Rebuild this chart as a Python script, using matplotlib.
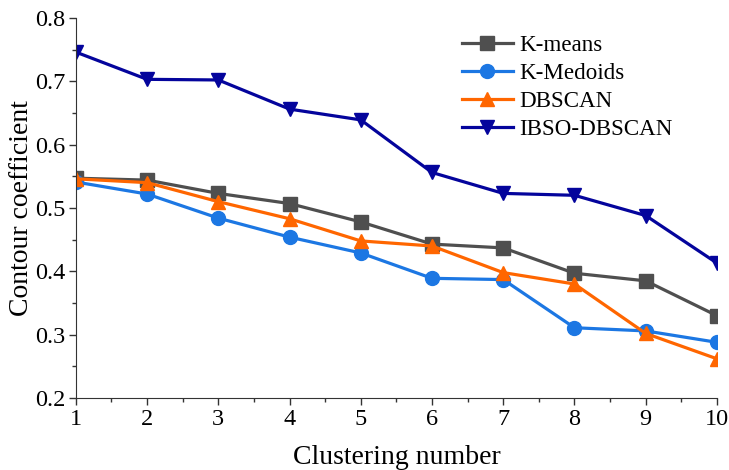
import matplotlib.pyplot as plt
from matplotlib.ticker import AutoMinorLocator

plt.rcParams['font.family'] = ['Liberation Serif', 'DejaVu Serif']
plt.rcParams['mathtext.fontset'] = 'stix'

cluster_num = [1, 2, 3, 4, 5, 6, 7, 8, 9, 10]
kmeans = [0.547, 0.544, 0.523, 0.507, 0.478, 0.443, 0.437, 0.397, 0.385, 0.330]
kmedoids = [0.541, 0.522, 0.484, 0.454, 0.429, 0.389, 0.387, 0.311, 0.306, 0.288]
dbscan = [0.546, 0.540, 0.510, 0.483, 0.448, 0.440, 0.398, 0.380, 0.302, 0.262]
ibso_dbscan = [0.746, 0.703, 0.702, 0.656, 0.639, 0.556, 0.523, 0.520, 0.488, 0.413]

series = [
    ("K-means", kmeans, '#4f4f4f', 's'),
    ("K-Medoids", kmedoids, '#1c77e3', 'o'),
    ("DBSCAN", dbscan, '#ff6600', '^'),
    ("IBSO-DBSCAN", ibso_dbscan, '#04049c', 'v'),
]


def main():
    fig = plt.figure(figsize=(7.29, 4.70), dpi=100)
    ax = fig.add_axes([0.104, 0.153, 0.8795, 0.809])

    for name, vals, color, marker in series:
        ax.plot(cluster_num, vals, color=color, marker=marker, markersize=10,
                linewidth=2.3, label=name)

    ax.set_xlim(1, 10)
    ax.set_ylim(0.2, 0.8)
    ax.set_xticks(cluster_num)
    ax.set_yticks([0.2, 0.3, 0.4, 0.5, 0.6, 0.7, 0.8])
    ax.xaxis.set_minor_locator(AutoMinorLocator(2))
    ax.yaxis.set_minor_locator(AutoMinorLocator(2))
    ax.tick_params(which='major', direction='out', length=5, width=1, labelsize=17.5,
                   color='#333333', pad=2.5)
    ax.tick_params(which='minor', direction='out', length=3, width=1, color='#333333')
    ax.spines['top'].set_visible(False)
    ax.spines['right'].set_visible(False)
    ax.spines['left'].set_color('#333333')
    ax.spines['bottom'].set_color('#333333')

    ax.set_xlabel("Clustering number", fontsize=20, labelpad=11)
    ax.set_ylabel("Contour coefficient", fontsize=20, labelpad=1)

    ax.legend(loc='upper left', bbox_to_anchor=(0.57, 1.01), frameon=False,
              fontsize=16.6, handlelength=2.2, handletextpad=0.3, labelspacing=0.3)

    fig.savefig("out.png", dpi=100)


if __name__ == "__main__":
    main()
